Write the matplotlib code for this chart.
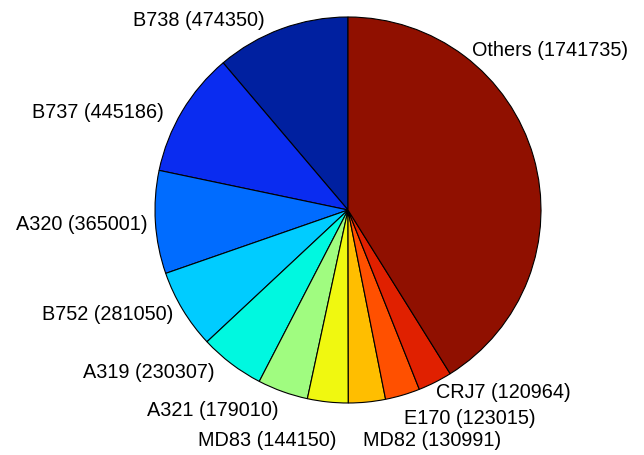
import matplotlib
matplotlib.use('Agg')
from matplotlib import pyplot as plt

# dados (sentido anti-horario a partir do topo)
aeronaves = ['B738', 'B737', 'A320', 'B752', 'A319', 'A321', 'MD83', 'MD82', 'E170', 'CRJ7', 'Others']
voos = [474350, 445186, 365001, 281050, 230307, 179010, 144150, 130991, 123015, 120964, 1741735]

cores = ['#0020A0', '#0A2CF0', '#006CFF', '#00CCFF', '#00F8E0', '#A0FC80',
         '#F0F810', '#FFBE00', '#FF5000', '#E02000', '#901000']

# posicao dos rotulos em pixels (x, y a partir do topo) e alinhamento
pos_rotulos = [(265, 21), (164, 112), (148, 225), (173, 315), (215, 373), (279, 410),
               (337, 440), (363, 440), (404, 418), (436, 392), (472, 50)]
alinh = ['right'] * 7 + ['left'] * 4

W, H = 644, 455
fig = plt.figure(figsize=(W / 100, H / 100), dpi=100)
ax = fig.add_axes([0, 0, 1, 1])

ax.pie(voos, colors=cores, startangle=90, counterclock=True,
       center=(348, H - 210), radius=193, frame=True,
       wedgeprops={'edgecolor': 'black', 'linewidth': 0.8})

for nome, v, (x, y), ha in zip(aeronaves, voos, pos_rotulos, alinh):
    ax.text(x, H - y, '%s (%d)' % (nome, v), ha=ha, va='center',
            fontsize=14.3, family='Liberation Sans', color='black')

ax.set_xlim(0, W)
ax.set_ylim(0, H)
ax.set_aspect('equal')
ax.axis('off')

plt.savefig('out.png', dpi=100, facecolor='white')
